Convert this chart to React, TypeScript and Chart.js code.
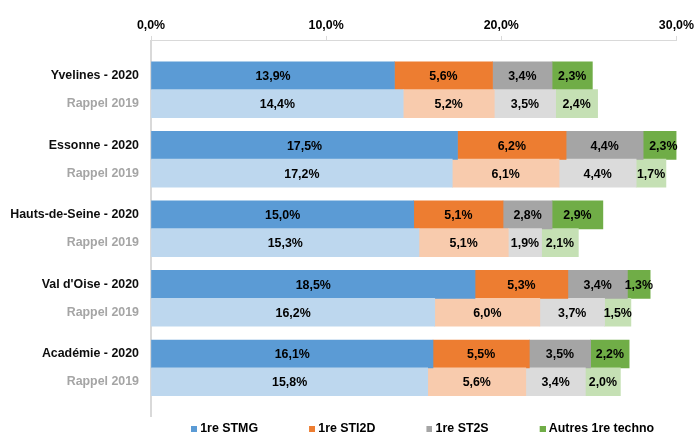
import React, { useEffect, useRef } from "react";
import { Chart, registerables } from "chart.js";

Chart.register(...registerables);

// ---- Data ----
const rowLabels = [
  "Yvelines - 2020",
  "Rappel 2019",
  "Essonne - 2020",
  "Rappel 2019",
  "Hauts-de-Seine - 2020",
  "Rappel 2019",
  "Val d'Oise - 2020",
  "Rappel 2019",
  "Académie - 2020",
  "Rappel 2019",
];
const seriesNames = ["1re STMG", "1re STI2D", "1re ST2S", "Autres 1re techno"];
const stmg = [13.9, 14.4, 17.5, 17.2, 15.0, 15.3, 18.5, 16.2, 16.1, 15.8];
const sti2d = [5.6, 5.2, 6.2, 6.1, 5.1, 5.1, 5.3, 6.0, 5.5, 5.6];
const st2s = [3.4, 3.5, 4.4, 4.4, 2.8, 1.9, 3.4, 3.7, 3.5, 3.4];
const autres = [2.3, 2.4, 2.3, 1.7, 2.9, 2.1, 1.3, 1.5, 2.2, 2.0];
const xTicks = [0, 10, 20, 30];

const colors2020 = ["#5b9bd5", "#ed7d31", "#a5a5a5", "#70ad47"];
const colors2019 = ["#bdd7ee", "#f8cbad", "#dbdbdb", "#c5e0b4"];

const FONT = '"Liberation Sans", Arial, sans-serif';
const FS = 12.4;

const fmt = (v: number) => v.toFixed(1).replace(".", ",") + "%";

// slot layout: blank spacer slots around each pair of rows
const slotRow: (number | null)[] = [null, null];
for (let g = 0; g < rowLabels.length / 2; g++) {
  slotRow.push(2 * g, null, 2 * g + 1, null, null);
}
const slotLabels = slotRow.map((r) => (r === null ? "" : rowLabels[r]));
const isRappel = (slot: number) => {
  const r = slotRow[slot];
  return r !== null && r !== undefined && r % 2 === 1;
};

const LEG_BOX = 48;

const valueLabels = {
  id: "valueLabels",
  afterDatasetsDraw(chart: any) {
    const ctx = chart.ctx;
    ctx.save();
    ctx.font = `bold ${FS}px ${FONT}`;
    ctx.fillStyle = "#000";
    ctx.textAlign = "center";
    ctx.textBaseline = "middle";
    chart.data.datasets.forEach((ds: any, di: number) => {
      const meta = chart.getDatasetMeta(di);
      meta.data.forEach((el: any, i: number) => {
        const v = ds.data[i];
        if (v === null || v === undefined) return;
        const p = el.getProps(["x", "y", "base"], true);
        ctx.fillText(fmt(v), (p.x + p.base) / 2, p.y + 1);
      });
    });
    ctx.restore();
  },
};

export default function App() {
  const canvasRef = useRef<HTMLCanvasElement | null>(null);

  useEffect(() => {
    if (!canvasRef.current) return;
    const series = [stmg, sti2d, st2s, autres];

    const swatches = colors2020.map((c) => {
      const cv = document.createElement("canvas");
      cv.width = LEG_BOX + 6;
      cv.height = 6;
      const g = cv.getContext("2d")!;
      g.fillStyle = c;
      g.fillRect(LEG_BOX, 0, 6, 6);
      return cv;
    });

    const datasets = series.map((vals, s) => ({
      label: seriesNames[s],
      data: slotRow.map((r) => (r === null ? null : vals[r])),
      backgroundColor: (c: any) =>
        isRappel(c.dataIndex) ? colors2019[s] : colors2020[s],
      borderWidth: 0,
      barThickness: 28,
      stack: "all",
    }));

    const chart = new Chart(canvasRef.current, {
      type: "bar",
      data: { labels: slotLabels, datasets: datasets as any },
      plugins: [valueLabels],
      options: {
        indexAxis: "y",
        responsive: false,
        animation: false,
        events: [],
        layout: { padding: { top: 15.1, right: 18, bottom: -12, left: 140 } },
        plugins: {
          tooltip: { enabled: false },
          legend: {
            position: "bottom",
            align: "start",
            fullSize: true,
            labels: {
              usePointStyle: true,
              pointStyleWidth: LEG_BOX,
              padding: 6,
              color: "#000",
              font: { family: FONT, size: FS, weight: "bold" },
              generateLabels: () =>
                seriesNames.map((name, i) => ({
                  text: name,
                  fillStyle: colors2020[i],
                  strokeStyle: colors2020[i],
                  lineWidth: 0,
                  pointStyle: swatches[i] as any,
                  hidden: false,
                  datasetIndex: i,
                  fontColor: "#000",
                })),
            },
          },
        },
        scales: {
          x: {
            position: "top",
            stacked: true,
            min: 0,
            max: 30,
            afterBuildTicks: (s: any) => {
              s.ticks = xTicks.map((v) => ({ value: v }));
            },
            ticks: {
              padding: 3,
              color: "#000",
              font: { family: FONT, size: FS, weight: "bold" },
              callback: (v: any) => fmt(Number(v)),
            },
            grid: {
              drawOnChartArea: false,
              drawTicks: true,
              tickLength: 5,
              color: "#d9d9d9",
            },
            border: { display: true, color: "#d9d9d9", width: 1 },
          },
          y: {
            type: "category",
            stacked: true,
            afterFit: (s: any) => {
              s.width = 11;
              // let the tick labels extend into the left padding
              s._computeLabelArea = () => undefined;
            },
            ticks: {
              autoSkip: false,
              padding: 12,
              color: (c: any) => (isRappel(c.index) ? "#a5a5a5" : "#0d0d0d"),
              font: { family: FONT, size: FS, weight: "bold" },
            },
            grid: { display: true, drawOnChartArea: false, drawTicks: false },
            border: { display: true, color: "#d9d9d9", width: 2 },
          },
        },
      } as any,
    });
    return () => chart.destroy();
  }, []);

  return (
    <div
      style={{
        position: "fixed",
        left: 0,
        top: 0,
        width: 697,
        height: 436,
        background: "#fff",
      }}
    >
      <canvas
        ref={canvasRef}
        width={697}
        height={436}
        style={{ display: "block", width: 697, height: 436 }}
      />
    </div>
  );
}
